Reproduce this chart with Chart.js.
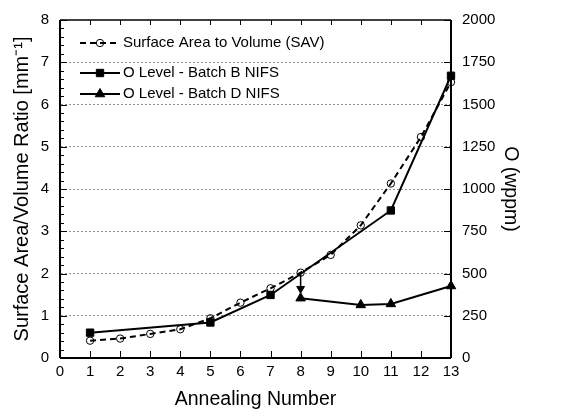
<!DOCTYPE html>
<html><head><meta charset="utf-8">
<script src="https://cdn.jsdelivr.net/npm/chart.js@4"></script>
<style>html,body{margin:0;padding:0;background:#fff}#wrap{width:563px;height:411px}</style>
</head><body><div id="wrap"><canvas id="c" width="563" height="411"></canvas></div>
<script>
// ---- data ----
const savRuns = [1,2,3,4,5,6,7,8,9,10,11,12,13];
const savValues = [0.41,0.46,0.57,0.68,0.94,1.31,1.65,2.02,2.44,3.14,4.13,5.23,6.53];
const batchBRuns = [1,5,7,11,13];
const batchBValues = [150,210,373,873,1670];
const batchDRuns = [8,10,11,13];
const batchDValues = [354,314,320,426];
const arrowRuns = [8,8];
const arrowValues = [500,410];
const seriesLabels = ['Surface Area to Volume (SAV)','O Level - Batch B NIFS','O Level - Batch D NIFS'];
const xRange = [0,13];
const leftRange = [0,8];
const rightRange = [0,2000];
const rightStep = 250;

const pts = (xs, ys) => xs.map((x,i)=>({x, y: ys[i]}));
const FONT = '"Liberation Sans", Arial, Helvetica, sans-serif';
Chart.defaults.font.family = FONT;
Chart.defaults.color = '#000';

function segs(ctx, list, color, width, dash){
  ctx.save();
  ctx.strokeStyle = color; ctx.lineWidth = width; ctx.setLineDash(dash);
  list.forEach(s => { ctx.beginPath(); ctx.moveTo(s[0], s[1]); ctx.lineTo(s[2], s[3]); ctx.stroke(); });
  ctx.restore();
}

const gridPlugin = {
  id:'gridPlugin',
  beforeDatasetsDraw(chart){
    const a = chart.chartArea, y = chart.scales.y;
    const list = [];
    for (let v = leftRange[0] + 1; v < leftRange[1]; v++) {
      const py = Math.floor(y.getPixelForValue(v)) + 0.5;
      list.push([a.left + 1, py, a.right - 1, py]);
    }
    segs(chart.ctx, list, '#909090', 1, [2,2]);
  }
};

const tickPlugin = {
  id:'tickPlugin',
  afterDatasetsDraw(chart){
    const a = chart.chartArea, s = chart.scales;
    const list = [];
    for (let i = 0; i <= (leftRange[1]-leftRange[0])*5; i++) {
      const py = Math.round(s.y.getPixelForValue(leftRange[0] + i/5)) + 0.5;
      list.push([a.left, py, a.left + ((i % 5 === 0) ? 7 : 4), py]);
    }
    for (let v = rightRange[0]; v <= rightRange[1]; v += rightStep) {
      const py = Math.round(s.y2.getPixelForValue(v)) + 0.5;
      list.push([a.right, py, a.right - 7, py]);
    }
    for (let v = xRange[0]; v <= xRange[1]; v++) {
      const px = Math.round(s.x.getPixelForValue(v)) + 0.5;
      list.push([px, a.bottom, px, a.bottom - 7]);
      list.push([px, a.top, px, a.top + 5]);
    }
    segs(chart.ctx, list, '#000', 1, []);
    segs(chart.ctx, [[a.left, a.top, a.left, a.bottom],[a.left, a.bottom, a.right, a.bottom],[a.right, a.bottom, a.right, a.top]], '#000', 2, []);
    segs(chart.ctx, [[a.left, a.top, a.right, a.top]], '#000', 1.5, []);
  }
};

const legendBox = {
  id:'legendBox',
  afterDraw(chart){
    const ctx = chart.ctx;
    const rows = [43, 73, 94];
    ctx.save();
    rows.forEach((ry, i) => {
      const ds = chart.data.datasets[i];
      ctx.strokeStyle = '#000'; ctx.lineWidth = 2;
      ctx.setLineDash(ds.borderDash || []);
      ctx.beginPath(); ctx.moveTo(80, ry); ctx.lineTo(120, ry); ctx.stroke();
      ctx.setLineDash([]);
      ctx.fillStyle = ds.pointBackgroundColor; ctx.strokeStyle = '#000'; ctx.lineWidth = ds.pointBorderWidth;
      Chart.helpers.drawPoint(ctx, {pointStyle: ds.pointStyle, radius: ds.pointRadius, borderWidth: ds.pointBorderWidth, rotation: 0}, 100, ry);
      ctx.fillStyle = '#000'; ctx.font = '15px ' + FONT; ctx.textBaseline = 'middle'; ctx.textAlign = 'left';
      ctx.fillText(seriesLabels[i], 123, ry);
    });
    ctx.restore();
  }
};

const plain = v => String(v);

new Chart(document.getElementById('c'), {
  type:'line',
  data:{ datasets:[
    { label: seriesLabels[0], data: pts(savRuns, savValues), yAxisID:'y', borderColor:'#000', borderWidth:2, borderDash:[6,4],
      pointStyle:'circle', pointRadius:3.7, pointBorderWidth:1, pointBorderColor:'#000', pointBackgroundColor:'rgba(0,0,0,0)', tension:0, clip:false },
    { label: seriesLabels[1], data: pts(batchBRuns, batchBValues), yAxisID:'y2', borderColor:'#000', borderWidth:2,
      pointStyle:'rect', pointRadius:5.2, pointBorderWidth:1, pointBorderColor:'#000', pointBackgroundColor:'#000', tension:0, clip:false },
    { label: seriesLabels[2], data: pts(batchDRuns, batchDValues), yAxisID:'y2', borderColor:'#000', borderWidth:2,
      pointStyle:'triangle', pointRadius:5.5, pointBorderWidth:1, pointBorderColor:'#000', pointBackgroundColor:'#000', tension:0, clip:false },
    { label: 'arrow', data: pts(arrowRuns, arrowValues), yAxisID:'y2', borderColor:'#000', borderWidth:1.5,
      pointStyle:'triangle', pointRadius:[0,4.5], pointRotation:180, pointBorderWidth:1, pointBorderColor:'#000', pointBackgroundColor:'#000', tension:0, clip:false }
  ]},
  options:{
    responsive:false, devicePixelRatio:1, animation:false,
    layout:{ padding:{ top:19, left:0, right:0, bottom:0 } },
    plugins:{ legend:{display:false}, tooltip:{enabled:false} },
    scales:{
      x:{ type:'linear', position:'bottom', min:xRange[0], max:xRange[1],
        ticks:{ stepSize:1, font:{size:15}, padding:5, maxRotation:0, autoSkip:false, callback: plain },
        grid:{ display:false, drawTicks:false }, border:{display:false},
        title:{ display:true, text:'Annealing Number', font:{size:19.5}, padding:{top:0,bottom:0} },
        afterFit(s){ s.height = 53; } },
      y:{ type:'linear', position:'left', min:leftRange[0], max:leftRange[1],
        ticks:{ stepSize:1, font:{size:15}, padding:11, callback: plain },
        grid:{ display:false, drawTicks:false }, border:{ display:false },
        title:{ display:true, text:'Surface Area/Volume Ratio [mm\u207B\u00B9]', font:{size:20}, padding:{top:10,bottom:0} },
        afterFit(s){ s.width = 60; } },
      y2:{ type:'linear', position:'right', min:rightRange[0], max:rightRange[1],
        ticks:{ stepSize:rightStep, font:{size:15}, padding:11, callback: plain },
        grid:{ display:false, drawTicks:false }, border:{display:false},
        title:{ display:true, text:'O (wppm)', font:{size:19.5}, padding:{top:41,bottom:0} },
        afterFit(s){ s.width = 112; } }
    }
  },
  plugins:[gridPlugin, tickPlugin, legendBox]
});
</script></body></html>
